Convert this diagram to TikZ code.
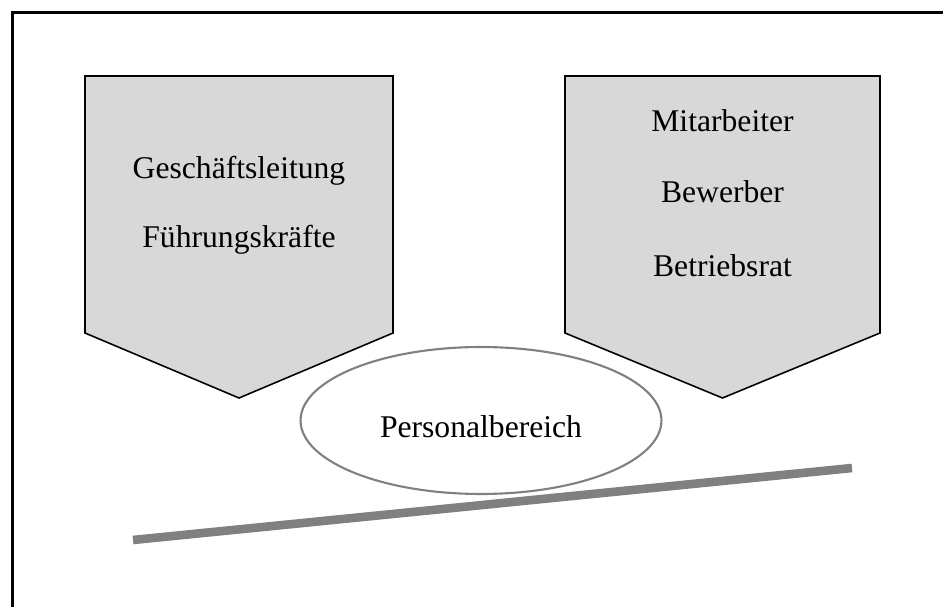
\documentclass[tikz,border=0pt]{standalone}
\usepackage{fontspec}
\setmainfont{Liberation Serif}
\usetikzlibrary{shapes.geometric, positioning}

\definecolor{boxgray}{RGB}{216,216,216}
\definecolor{linegray}{RGB}{128,128,128}

\begin{document}
\begin{tikzpicture}[x=0.02cm, y=-0.02cm]
    \tikzset{
        frame/.style = {draw=black, line width=1.5pt},
        arrowbox/.style = {draw=black, fill=boxgray, line width=0.9pt, line join=miter},
        oval/.style = {ellipse, draw=linegray, line width=1.2pt, minimum width=7.22cm, minimum height=2.94cm, inner sep=0pt},
        txt/.style = {font=\fontsize{18}{22}\selectfont, inner sep=0pt, anchor=base},
        beam/.style = {draw=linegray, line width=4.9pt, line cap=butt},
    }

    \useasboundingbox (0,0) rectangle (943,607);
    \clip (0,0) rectangle (943,607);

    % outer frame (only left and top edge visible)
    \draw[frame] (12.5,640) -- (12.5,12.5) -- (980,12.5);

    % left block
    \draw[arrowbox] (85,76) -- (393,76) -- (393,333) -- (239,398) -- (85,333) -- cycle;
    \node[txt](leitung) at (239,179){Geschäftsleitung};
    \node[txt](fuehrung) at (239,248){Führungskräfte};

    % right block
    \draw[arrowbox] (565,76) -- (880,76) -- (880,333) -- (722.5,398) -- (565,333) -- cycle;
    \node[txt](mitarbeiter) at (722.5,131.5){Mitarbeiter};
    \node[txt](bewerber) at (722.5,203){Bewerber};
    \node[txt](betriebsrat) at (722.5,276.5){Betriebsrat};

    % centre
    \node[oval](personal) at (481,420.5){};
    \node[txt](personaltxt) at (481,438){Personalbereich};

    % balance beam
    \coordinate (beamleft) at (133,540);
    \coordinate (beamright) at (852,468);
    \path [beam] (beamleft) -- (beamright);

\end{tikzpicture}
\end{document}
